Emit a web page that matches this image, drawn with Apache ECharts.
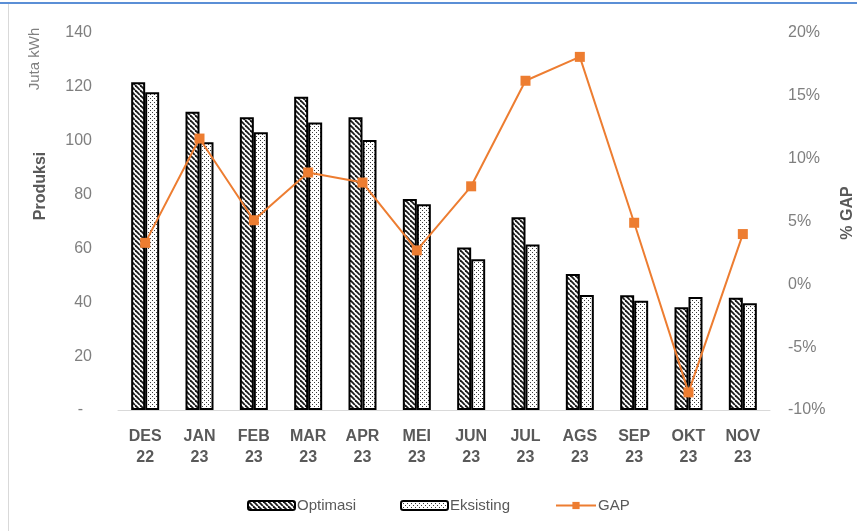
<!DOCTYPE html>
<html>
<head>
<meta charset="utf-8">
<script src="https://cdn.jsdelivr.net/npm/echarts@6/dist/echarts.min.js"></script>
<style>
  html, body { margin: 0; padding: 0; background: #fff; }
  #chart { width: 857px; height: 531px; }
</style>
</head>
<body>
<div id="chart"></div>
<script>
// Monthly production (Juta kWh) and percentage gap
const months = ['DES\n22', 'JAN\n23', 'FEB\n23', 'MAR\n23', 'APR\n23', 'MEI\n23',
                'JUN\n23', 'JUL\n23', 'AGS\n23', 'SEP\n23', 'OKT\n23', 'NOV\n23'];
const optimasi  = [121.7, 110.8, 108.7, 116.3, 108.7, 78.4, 60.3, 71.6, 50.5, 42.6, 38.2, 41.7];
const eksisting = [118.0,  99.4, 103.1, 106.8, 100.3, 76.4, 56.0, 61.5, 42.7, 40.6, 42.0, 39.6];
const gapPct    = [3.3, 11.6, 5.1, 8.9, 8.1, 2.7, 7.8, 16.2, 18.1, 4.9, -8.6, 4.0];

// Fill patterns: diagonal hatch and fine dots
function hatchPattern() {
  const s = 5;
  const c = document.createElement('canvas');
  c.width = s; c.height = s;
  const g = c.getContext('2d');
  g.fillStyle = '#ffffff';
  g.fillRect(0, 0, s, s);
  g.strokeStyle = '#1a1a1a';
  g.lineWidth = 1.8;
  for (let i = -s; i <= s; i += s) {
    g.beginPath();
    g.moveTo(i, 0);
    g.lineTo(i + s, s);
    g.stroke();
  }
  return { image: c, repeat: 'repeat' };
}
function dotPattern() {
  const s = 4;
  const c = document.createElement('canvas');
  c.width = s; c.height = s;
  const g = c.getContext('2d');
  g.fillStyle = '#ffffff';
  g.fillRect(0, 0, s, s);
  g.fillStyle = '#3a3a3a';
  g.fillRect(0, 0, 1, 1);
  g.fillRect(2, 2, 1, 1);
  return { image: c, repeat: 'repeat' };
}

const FONT = 'Liberation Sans, Arial, sans-serif';
const chart = echarts.init(document.getElementById('chart'), null, { renderer: 'canvas' });

const legendBase = {
  top: 493,
  itemHeight: 9,
  itemWidth: 47,
  itemGap: 0,
  textStyle: { fontFamily: FONT, fontSize: 15, color: '#595959', padding: [0, 0, 0, -3] }
};

chart.setOption({
  backgroundColor: '#ffffff',
  animation: false,
  grid: { left: 118, right: 87, top: 33, bottom: 121 },
  legend: [
    Object.assign({}, legendBase, { left: 242, data: ['Optimasi'] }),
    Object.assign({}, legendBase, { left: 395, data: ['Eksisting'] }),
    Object.assign({}, legendBase, { left: 550, itemWidth: 40, data: ['GAP'] })
  ],
  xAxis: {
    type: 'category',
    data: months,
    axisLine: { lineStyle: { color: '#d9d9d9', width: 1 } },
    axisTick: { show: false },
    axisLabel: {
      fontFamily: FONT, fontSize: 16, fontWeight: 'bold', color: '#595959',
      lineHeight: 21, margin: 16, interval: 0
    }
  },
  yAxis: [
    {
      type: 'value', min: 0, max: 140, interval: 20,
      axisLine: { show: false }, axisTick: { show: false }, splitLine: { show: false },
      axisLabel: {
        fontFamily: FONT, fontSize: 16, color: '#7f7f7f', margin: 26,
        formatter: v => (v === 0 ? '-  ' : String(v))
      }
    },
    {
      type: 'value', min: -10, max: 20, interval: 5,
      axisLine: { show: false }, axisTick: { show: false }, splitLine: { show: false },
      axisLabel: {
        fontFamily: FONT, fontSize: 16, color: '#7f7f7f', margin: 18,
        formatter: v => v + '%'
      }
    }
  ],
  series: [
    {
      name: 'Optimasi', type: 'bar', data: optimasi,
      barWidth: 14, barGap: '0%',
      itemStyle: { color: hatchPattern(), borderColor: '#000000', borderWidth: 2 }
    },
    {
      name: 'Eksisting', type: 'bar', data: eksisting,
      barWidth: 14,
      itemStyle: { color: dotPattern(), borderColor: '#000000', borderWidth: 2 }
    },
    {
      name: 'GAP', type: 'line', yAxisIndex: 1, data: gapPct, z: 5,
      symbol: 'rect', symbolSize: 10,
      lineStyle: { color: '#ED7D31', width: 2 },
      itemStyle: { color: '#ED7D31' }
    }
  ],
  graphic: [
    // frame edges
    { type: 'rect', shape: { x: 0, y: 2, width: 857, height: 2 }, style: { fill: '#5b8fd6' }, silent: true },
    { type: 'rect', shape: { x: 8, y: 4, width: 1, height: 527 }, style: { fill: '#d9d9d9' }, silent: true },
    // axis titles
    {
      type: 'text', x: 35, y: 59, rotation: Math.PI / 2,
      style: { text: 'Juta kWh', fontFamily: FONT, fontSize: 15, fill: '#808080',
               align: 'center', verticalAlign: 'middle' }
    },
    {
      type: 'text', x: 41, y: 186, rotation: Math.PI / 2,
      style: { text: 'Produksi', fontFamily: FONT, fontSize: 16, fontWeight: 'bold', fill: '#595959',
               align: 'center', verticalAlign: 'middle' }
    },
    {
      type: 'text', x: 848, y: 213, rotation: Math.PI / 2,
      style: { text: '% GAP', fontFamily: FONT, fontSize: 16, fontWeight: 'bold', fill: '#595959',
               align: 'center', verticalAlign: 'middle' }
    }
  ]
});
</script>
</body>
</html>
